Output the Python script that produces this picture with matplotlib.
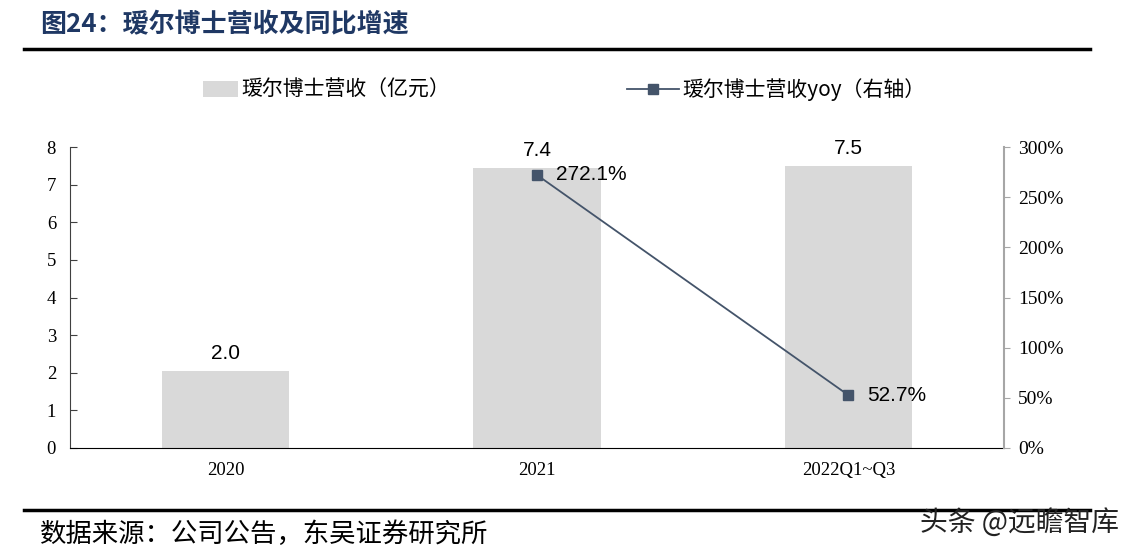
import matplotlib
matplotlib.use('Agg')
import matplotlib.pyplot as plt
from matplotlib.patches import Patch
from matplotlib.lines import Line2D

plt.rcParams['font.family'] = ['Noto Sans CJK SC', 'DejaVu Sans']

# data
categories = ['2020', '2021', '2022Q1~Q3']
revenue = [2.04, 7.44, 7.50]          # 亿元
revenue_labels = ['2.0', '7.4', '7.5']
yoy = [None, 272.1, 52.7]             # %
left_ticks = [0, 1, 2, 3, 4, 5, 6, 7, 8]
right_ticks = [0, 50, 100, 150, 200, 250, 300]

BAR_COLOR = '#D9D9D9'
LINE_COLOR = '#44546A'
TITLE_COLOR = '#1F3864'

fig = plt.figure(figsize=(11.22, 5.57), dpi=100)
ax = fig.add_axes([70 / 1122, 1 - 448 / 557, 934 / 1122, 301 / 557])
ax2 = ax.twinx()

x = list(range(len(categories)))
ax.bar(x, revenue, width=0.41, color=BAR_COLOR, zorder=1)
for xi, v, lab in zip(x, revenue, revenue_labels):
    ax.text(xi, v + 0.22, lab, ha='center', va='bottom', fontsize=15,
            family='Liberation Sans', color='black')

ax.set_xlim(-0.5, 2.5)
ax.set_ylim(0, 8)
ax.set_yticks(left_ticks)
ax.set_yticklabels([str(t) for t in left_ticks], family='Liberation Serif', fontsize=13.5)
ax.set_xticks(x)
ax.set_xticklabels(categories, family='Liberation Serif', fontsize=13.5)
ax.tick_params(axis='x', length=0, pad=10)
ax.tick_params(axis='y', direction='in', length=5, pad=10, color='#404040')
ax.spines['top'].set_visible(False)
ax.spines['right'].set_visible(False)
ax2.spines['top'].set_visible(False)
ax2.spines['left'].set_visible(False)
ax2.spines['bottom'].set_visible(False)
ax.spines['left'].set_color('#404040')
ax.spines['bottom'].set_color('black')
ax2.spines['right'].set_color('#A6A6A6')
ax2.spines['right'].set_linewidth(1.5)

lx = [xi for xi, v in zip(x, yoy) if v is not None]
ly = [v for v in yoy if v is not None]
ax2.plot(lx, ly, color=LINE_COLOR, lw=1.3, marker='s', markersize=7,
         markerfacecolor=LINE_COLOR, markeredgecolor=LINE_COLOR, zorder=3)
for xi, v in zip(lx, ly):
    ax2.text(xi + 0.06, v, f'{v:.1f}%', ha='left', va='center', fontsize=15,
             family='Liberation Sans', color='black')
ax2.set_ylim(0, 300)
ax2.set_yticks(right_ticks)
ax2.set_yticklabels([f'{t}%' for t in right_ticks], family='Liberation Serif', fontsize=14)
ax2.tick_params(axis='y', direction='out', length=4, pad=6, color='#A6A6A6')

# legend, two separate entries placed where the reference has them
leg_y = 1 - 90 / 557
fig.legend([Patch(facecolor=BAR_COLOR, edgecolor='none')], ['瑷尔博士营收（亿元）'],
           loc='center left', bbox_to_anchor=(203 / 1122, leg_y), frameon=False,
           fontsize=15, handlelength=1.7, handleheight=0.8, handletextpad=0.15,
           borderpad=0, borderaxespad=0)
fig.legend([Line2D([0], [0], color=LINE_COLOR, lw=1.3, marker='s', markersize=7)],
           ['瑷尔博士营收yoy（右轴）'],
           loc='center left', bbox_to_anchor=(627 / 1122, leg_y), frameon=False,
           fontsize=15, handlelength=2.5, handletextpad=0.15,
           borderpad=0, borderaxespad=0)

# title and rules
fig.text(40 / 1122, 1 - 25 / 557, '图24：瑷尔博士营收及同比增速', fontsize=18.7,
         fontweight='bold', color=TITLE_COLOR, ha='left', va='center')
fig.add_artist(Line2D([24 / 1122, 1090 / 1122], [1 - 49 / 557] * 2, color='black', lw=2.5))
fig.add_artist(Line2D([24 / 1122, 1090 / 1122], [1 - 510 / 557] * 2, color='black', lw=2.5))
fig.text(40 / 1122, 1 - 534 / 557, '数据来源：公司公告，东吴证券研究所', fontsize=19,
         color='black', ha='left', va='center')
fig.text(1119 / 1122, 1 - 523 / 557, '头条 @远瞻智库', fontsize=20,
         color='#222222', ha='right', va='center')

fig.savefig('out.png', dpi=100)
